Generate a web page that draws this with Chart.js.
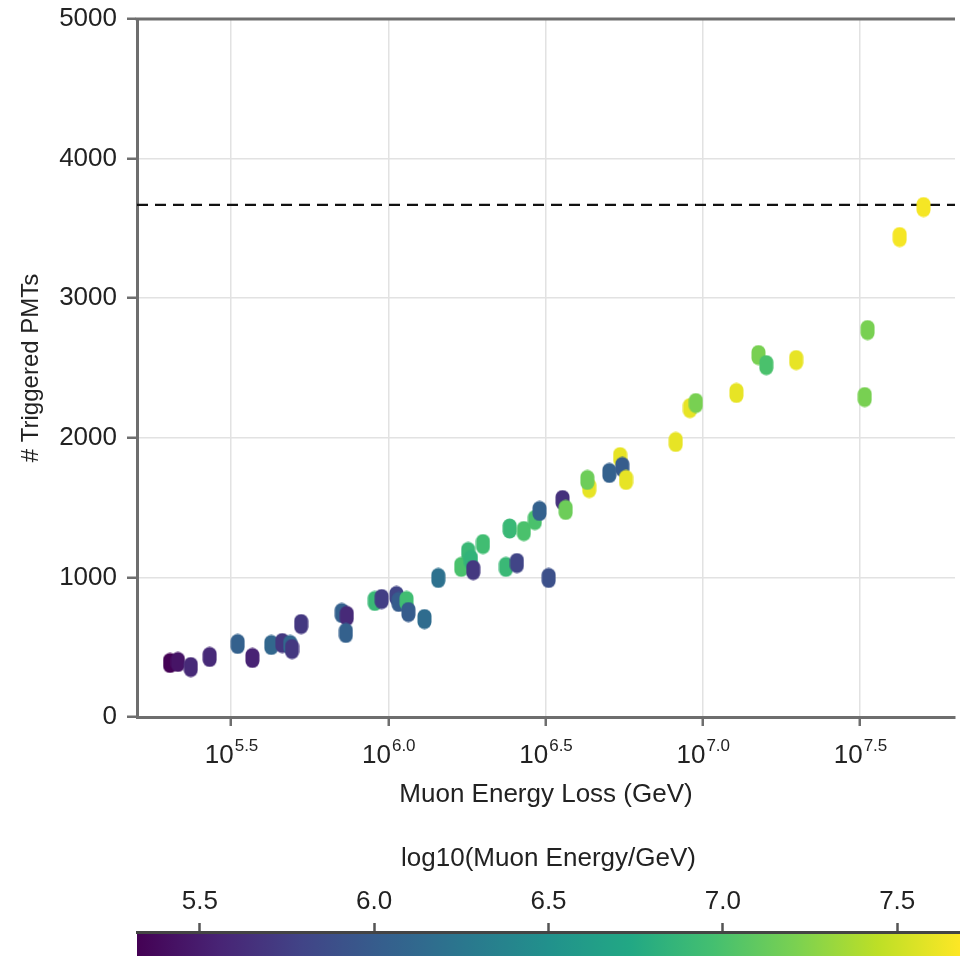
<!DOCTYPE html>
<html>
<head>
<meta charset="utf-8">
<script src="https://cdn.jsdelivr.net/npm/chart.js@4"></script>
<style>
html, body { margin: 0; padding: 0; background: #fff; overflow: hidden; }
#wrap { position: relative; width: 960px; height: 956px; }
#graficaPrincipal { position: absolute; left: 0; top: 0; }
#graficaColor { position: absolute; left: 0; top: 810px; }
</style>
</head>
<body>
<div id="wrap">
    <canvas id="graficaPrincipal" width="960" height="830"></canvas>
    <canvas id="graficaColor" width="960" height="146"></canvas>
</div>
<script>
// =============================
// DATOS
// =============================
// log10 de la pérdida de energía del muón (GeV)
const perdidaLog10 = [
    5.306, 5.331, 5.372, 5.432, 5.521, 5.568, 5.628, 5.663, 5.688, 5.694,
    5.723, 5.852, 5.868, 5.865, 5.957, 5.979, 6.026, 6.033, 6.058, 6.064,
    6.115, 6.159, 6.232, 6.254, 6.263, 6.270, 6.301, 6.374, 6.409, 6.386,
    6.431, 6.466, 6.481, 6.510, 6.554, 6.564, 6.639, 6.633, 6.703, 6.737,
    6.744, 6.756, 6.914, 6.959, 6.978, 7.107, 7.177, 7.202, 7.297, 7.515,
    7.524, 7.626, 7.702
];
// número de PMTs disparados
const pmtsDisparados = [
    387, 394, 358, 430, 523, 423, 516, 530, 516, 487,
    666, 745, 724, 602, 831, 845, 867, 824, 831, 752,
    702, 996, 1075, 1182, 1125, 1053, 1239, 1075, 1103, 1350,
    1332, 1411, 1476, 996, 1554, 1483, 1640, 1698, 1748, 1862,
    1791, 1698, 1970, 2213, 2249, 2321, 2593, 2521, 2557, 2292,
    2772, 3438, 3653
];
// log10 de la energía del muón (color)
const energiaLog10 = [
    5.33, 5.45, 5.6, 5.6, 6.05, 5.55, 6.1, 5.7, 6.1, 5.7,
    5.7, 6.05, 5.6, 6.05, 6.9, 5.75, 5.8, 6.0, 6.95, 6.0,
    6.15, 6.2, 7.0, 6.9, 6.85, 5.7, 6.95, 6.9, 5.8, 6.9,
    7.0, 7.0, 6.05, 5.9, 5.65, 7.15, 7.6, 7.15, 6.05, 7.6,
    6.0, 7.6, 7.6, 7.6, 7.2, 7.6, 7.2, 7.0, 7.6, 7.2,
    7.2, 7.65, 7.65
];

const ticksPerdida = [5.5, 6.0, 6.5, 7.0, 7.5];
const ticksEnergia = [5.5, 6.0, 6.5, 7.0, 7.5];
const limiteX = [5.201, 7.802];
const limiteColor = [5.32, 7.68];
const umbralPMTs = 3668;

const fuente = "'Liberation Sans', Arial, sans-serif";
const colorTexto = "#222";
const colorEje = "#6e6e6e";

// =============================
// MAPA DE COLOR VIRIDIS
// =============================
const viridis = [
    [68, 1, 84], [72, 36, 117], [65, 68, 135], [53, 95, 141], [42, 120, 142],
    [33, 145, 140], [34, 168, 132], [68, 191, 112], [122, 209, 81],
    [189, 223, 38], [253, 231, 37]
];

function colorViridis(t){
    t = Math.max(0, Math.min(1, t));
    let p = t * (viridis.length - 1);
    let i = Math.min(Math.floor(p), viridis.length - 2);
    let f = p - i;
    let a = viridis[i], b = viridis[i + 1];
    let c = a.map((v, k) => Math.round(v + (b[k] - v) * f));
    return "rgb(" + c.join(",") + ")";
}

function colorEnergia(e){
    return colorViridis((e - limiteColor[0]) / (limiteColor[1] - limiteColor[0]));
}

// marcador en forma de píldora vertical
const cachePildoras = {};
function pildora(color){
    if(cachePildoras[color]){
        return cachePildoras[color];
    }
    let c = document.createElement("canvas");
    c.width = 15;
    c.height = 21;
    let g = c.getContext("2d");
    g.fillStyle = color;
    g.beginPath();
    g.roundRect(0.5, 0.5, 14, 20, 7);
    g.fill();
    cachePildoras[color] = c;
    return c;
}

let puntos = perdidaLog10.map((x, i) => ({
    x: Math.pow(10, x),
    y: pmtsDisparados[i],
    e: energiaLog10[i]
}));

// =============================
// PLUGIN: ejes y textos extra
// =============================
const pluginEjes = {
    id: "pluginEjes",
    afterDraw(chart){
        let ctx = chart.ctx;
        let area = chart.chartArea;
        let ejeX = chart.scales.x;

        ctx.save();

        // línea superior del marco
        ctx.strokeStyle = colorEje;
        ctx.lineWidth = 3;
        ctx.beginPath();
        ctx.moveTo(area.left - 1.5, area.top);
        ctx.lineTo(area.right, area.top);
        ctx.stroke();

        // etiquetas 10^x
        ctx.fillStyle = colorTexto;
        ctx.textBaseline = "alphabetic";
        ticksPerdida.forEach(function(t){
            let px = ejeX.getPixelForValue(Math.pow(10, t));
            let base = "10";
            let sup = t.toFixed(1);
            ctx.font = "26px " + fuente;
            let wb = ctx.measureText(base).width;
            ctx.font = "17px " + fuente;
            let ws = ctx.measureText(sup).width;
            let x0 = px - (wb + ws) / 2;
            ctx.font = "26px " + fuente;
            ctx.textAlign = "left";
            ctx.fillText(base, x0, area.bottom + 46);
            ctx.font = "17px " + fuente;
            ctx.fillText(sup, x0 + wb + 1, area.bottom + 34);
        });

        // título eje X
        ctx.font = "26px " + fuente;
        ctx.textAlign = "center";
        ctx.textBaseline = "middle";
        ctx.fillText("Muon Energy Loss (GeV)", (area.left + area.right) / 2, area.bottom + 78);

        ctx.restore();
    }
};

// =============================
// GRÁFICA PRINCIPAL
// =============================
let grafica = new Chart(document.getElementById("graficaPrincipal").getContext("2d"), {

    type: "scatter",

    data: {
        datasets: [
            {
                label: "umbral",
                type: "line",
                data: [
                    { x: Math.pow(10, limiteX[0]), y: umbralPMTs },
                    { x: Math.pow(10, limiteX[1]), y: umbralPMTs }
                ],
                borderColor: "#111",
                borderWidth: 2.2,
                borderDash: [11, 7],
                pointRadius: 0,
                fill: false,
                order: 2
            },
            {
                label: "eventos",
                data: puntos,
                pointStyle: ctx => pildora(colorEnergia(ctx.raw ? ctx.raw.e : 6)),
                backgroundColor: ctx => colorEnergia(ctx.raw ? ctx.raw.e : 6),
                order: 1
            }
        ]
    },

    options: {
        responsive: false,
        animation: false,
        layout: {
            padding: { top: 19, right: 0, left: 0, bottom: 0 }
        },
        plugins: {
            legend: { display: false },
            tooltip: { enabled: false }
        },
        scales: {
            x: {
                type: "logarithmic",
                min: Math.pow(10, limiteX[0]),
                max: Math.pow(10, limiteX[1]),
                afterBuildTicks: function(escala){
                    escala.ticks = ticksPerdida.map(t => ({ value: Math.pow(10, t) }));
                },
                afterFit: function(escala){
                    escala.height = 113;
                    escala.paddingLeft = 0;
                    escala.paddingRight = 0;
                },
                ticks: { display: false },
                grid: {
                    color: "#e2e2e2",
                    lineWidth: 1.5,
                    tickLength: 9,
                    tickColor: colorEje,
                    tickWidth: 2.5
                },
                border: { color: colorEje, width: 3 }
            },
            y: {
                min: 0,
                max: 5000,
                afterFit: function(escala){
                    escala.width = 137;
                    escala.paddingTop = 0;
                    escala.paddingBottom = 0;
                },
                ticks: {
                    stepSize: 1000,
                    padding: 10,
                    color: colorTexto,
                    font: { family: fuente, size: 26 },
                    callback: v => String(v)
                },
                title: {
                    display: true,
                    text: "# Triggered PMTs",
                    color: colorTexto,
                    font: { family: fuente, size: 24 },
                    padding: { top: 17, bottom: 0 }
                },
                grid: {
                    color: "#e2e2e2",
                    lineWidth: 1.5,
                    tickLength: 10,
                    tickColor: colorEje,
                    tickWidth: 2.5
                },
                border: { color: colorEje, width: 3 }
            }
        }
    },

    plugins: [pluginEjes]

});

// =============================
// BARRA DE COLOR
// =============================
const pluginDegradado = {
    id: "pluginDegradado",
    beforeDraw(chart){
        let ctx = chart.ctx;
        let area = chart.chartArea;
        let escala = chart.scales.x;
        let grad = ctx.createLinearGradient(area.left, 0, area.right, 0);
        for(let k = 0; k <= 20; k++){
            let v = limiteColor[0] + (limiteColor[1] - limiteColor[0]) * k / 20;
            let f = (escala.getPixelForValue(v) - area.left) / (area.right - area.left);
            grad.addColorStop(Math.max(0, Math.min(1, f)), colorEnergia(v));
        }
        ctx.save();
        ctx.fillStyle = grad;
        ctx.fillRect(area.left, area.top, area.right - area.left, area.bottom - area.top);
        ctx.restore();
    }
};

let graficaColor = new Chart(document.getElementById("graficaColor").getContext("2d"), {

    type: "scatter",

    data: { datasets: [{ data: [] }] },

    options: {
        responsive: false,
        animation: false,
        layout: {
            padding: { left: 137, right: 0, top: 0, bottom: 0 }
        },
        plugins: {
            legend: { display: false },
            tooltip: { enabled: false }
        },
        scales: {
            x: {
                type: "linear",
                position: "top",
                min: limiteColor[0],
                max: limiteColor[1],
                afterBuildTicks: function(escala){
                    escala.ticks = ticksEnergia.map(t => ({ value: t }));
                },
                afterFit: function(escala){
                    escala.height = 122;
                },
                ticks: {
                    padding: 6,
                    color: colorTexto,
                    font: { family: fuente, size: 26 },
                    callback: v => Number(v).toFixed(1)
                },
                title: {
                    display: true,
                    text: "log10(Muon Energy/GeV)",
                    color: colorTexto,
                    font: { family: fuente, size: 26 },
                    padding: { top: 33, bottom: 0 }
                },
                grid: {
                    drawOnChartArea: false,
                    tickLength: 9,
                    tickColor: "#555",
                    tickWidth: 2.5
                },
                border: { color: "#444", width: 3 }
            },
            y: { display: false, min: 0, max: 1 }
        }
    },

    plugins: [pluginDegradado]

});
</script>
</body>
</html>
